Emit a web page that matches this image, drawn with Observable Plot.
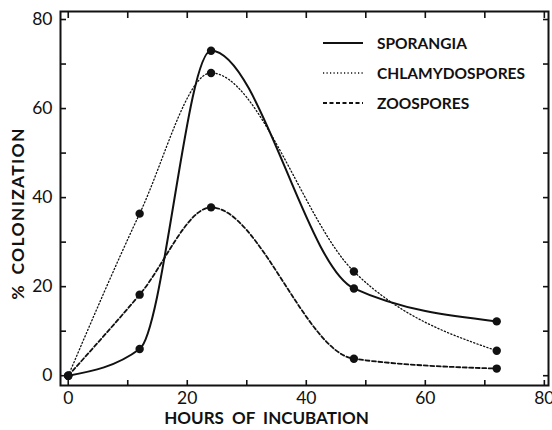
<!DOCTYPE html>
<html><head><meta charset="utf-8">
<script src="https://cdn.jsdelivr.net/npm/d3@7"></script>
<script src="https://cdn.jsdelivr.net/npm/@observablehq/plot@0.6"></script>
<style>
body{margin:0;background:#fff;}
#wrap{position:relative;width:552px;height:430px;}
#legend{position:absolute;left:0;top:0;pointer-events:none;}
</style></head><body><div id="wrap"></div>
<script>
const hours = [0, 12, 24, 48, 72];
const sporangia = [0, 6, 73, 19.6, 12.2];
const chlamydospores = [0, 36.4, 68, 23.4, 5.6];
const zoospores = [0, 18.2, 37.8, 3.8, 1.6];
const seriesNames = ["SPORANGIA", "CHLAMYDOSPORES", "ZOOSPORES"];
const xTickLabels = [0, 20, 40, 60, 80];
const yTickLabels = [0, 20, 40, 60, 80];
const minorTicks = [0, 10, 20, 30, 40, 50, 60, 70, 80];
const xLabel = "HOURS OF INCUBATION";
const yLabel = "% COLONIZATION";

const styles = {
  "SPORANGIA": {strokeWidth: 2, dash: null},
  "CHLAMYDOSPORES": {strokeWidth: 1.3, dash: "1.2,2.3"},
  "ZOOSPORES": {strokeWidth: 1.8, dash: "4,2.5"}
};
const values = [sporangia, chlamydospores, zoospores];
const rows = seriesNames.flatMap((s, i) => hours.map((h, j) => ({series: s, hour: h, value: values[i][j]})));

const ink = "#111";
const lineMarks = seriesNames.map(s => Plot.line(rows.filter(d => d.series === s), {
  x: "hour", y: "value", curve: "monotone-x", stroke: ink,
  strokeWidth: styles[s].strokeWidth, strokeDasharray: styles[s].dash
}));

const empty = () => "";
const chart = Plot.plot({
  width: 552, height: 430,
  marginLeft: 60, marginRight: 4, marginTop: 11, marginBottom: 45,
  style: {fontFamily: "Lato", fontSize: "17.5px", background: "white", color: ink},
  x: {domain: [-1.3, 80.7]},
  y: {domain: [-2.2, 81.8]},
  marks: [
    Plot.axisX({anchor: "bottom", ticks: minorTicks, tickSize: 5, dy: -5, tickFormat: empty, label: null, strokeWidth: 1.6, stroke: ink}),
    Plot.axisX({anchor: "top", ticks: minorTicks, tickSize: 6, dy: 6, tickFormat: empty, label: null, strokeWidth: 1.6, stroke: ink}),
    Plot.axisY({anchor: "left", ticks: minorTicks, tickSize: 6, dx: 6, tickFormat: empty, label: null, strokeWidth: 1.6, stroke: ink}),
    Plot.axisY({anchor: "right", ticks: minorTicks, tickSize: 6, dx: -6, tickFormat: empty, label: null, strokeWidth: 1.6, stroke: ink}),
    Plot.axisX({anchor: "bottom", ticks: xTickLabels, tickSize: 0, tickPadding: 6, label: null}),
    Plot.axisY({anchor: "left", ticks: yTickLabels, tickSize: 0, tickPadding: 8, label: null}),
    Plot.frame({stroke: ink, strokeWidth: 2}),
    ...lineMarks,
    Plot.dot(rows, {x: "hour", y: "value", r: 4.2, fill: ink}),
    Plot.text([xLabel], {frameAnchor: "bottom", lineAnchor: "middle", textAnchor: "middle", dx: -38, dy: 33, fontSize: 17, fontWeight: "bold"}),
    Plot.text([yLabel], {frameAnchor: "left", lineAnchor: "middle", textAnchor: "middle", rotate: -90, dx: -42, dy: 15, fontSize: 17.5, fontWeight: "bold"})
  ]
});
d3.select(chart).selectAll("text").filter(function() { return this.textContent === yLabel; })
  .style("letter-spacing", "1.3px").style("word-spacing", "4px");
d3.select(chart).selectAll("text").filter(function() { return this.textContent === xLabel; })
  .style("word-spacing", "4px");
const wrap = document.getElementById("wrap");
wrap.appendChild(chart);

// legend overlay
const leg = d3.select(wrap).append("svg").attr("id", "legend").attr("width", 552).attr("height", 430);
seriesNames.forEach((s, i) => {
  const y = 43 + i * 30;
  leg.append("line").attr("x1", 323).attr("x2", 363).attr("y1", y).attr("y2", y)
    .attr("stroke", ink).attr("stroke-width", styles[s].strokeWidth)
    .attr("stroke-dasharray", styles[s].dash);
  leg.append("text").attr("x", 377).attr("y", y).attr("dy", "0.36em")
    .attr("font-family", "Lato").attr("font-weight", "bold").attr("font-size", 15.5)
    .attr("fill", ink).text(s);
});
</script></body></html>
